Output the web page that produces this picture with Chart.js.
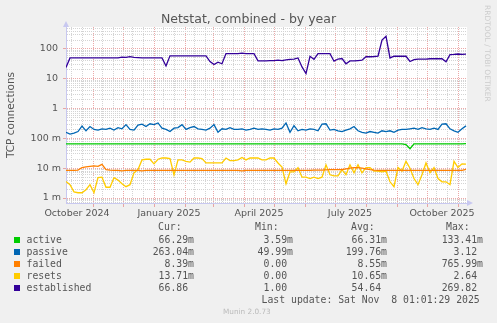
<!DOCTYPE html>
<html>
<head>
<meta charset="utf-8">
<title>Netstat, combined - by year</title>
<script src="https://cdn.jsdelivr.net/npm/chart.js@4.4.1/dist/chart.umd.min.js"></script>
<style>
	html, body { margin: 0; padding: 0; background: #f0f0f0; }
	#wrap { position: relative; width: 497px; height: 323px; overflow: hidden; font-family: "DejaVu Sans", sans-serif; color: #555; }
	#wrap canvas { position: absolute; left: 0; top: 0; }
	.txt { position: absolute; white-space: pre; line-height: 12px; }
	.mono { font-family: "DejaVu Sans Mono", monospace; font-size: 9.8px; }
	.box { position: absolute; width: 6px; height: 6px; }
	#title { left: 0; width: 497px; top: 12px; text-align: center; font-size: 12.5px; line-height: 14px; }
	#munin { left: 223px; top: 306px; font-size: 7.3px; color: #bbb; }
	#rrd { left: 482px; top: 5px; font-size: 7.5px; line-height: 10px; color: #ccc; writing-mode: vertical-rl; }
</style>
</head>
<body>
<div id="wrap">
	<canvas id="netstat" width="497" height="323"></canvas>
	<div id="title" class="txt">Netstat, combined - by year</div>
	<div id="rrd" class="txt">RRDTOOL / TOBI OETIKER</div>
	<div id="munin" class="txt">Munin 2.0.73</div>
</div>
<script>
// sample days, counted from 1 October 2024
var days = [
	4, 8, 12, 16, 20, 24, 28, 32, 36, 40,
	44, 48, 52, 56, 60, 64, 68, 72, 76, 80,
	84, 88, 92, 96, 100, 104, 108, 112, 116, 120,
	124, 128, 132, 136, 140, 144, 148, 152, 156, 160,
	164, 168, 172, 176, 180, 184, 188, 192, 196, 200,
	204, 208, 212, 216, 220, 224, 228, 232, 236, 240,
	244, 248, 252, 256, 260, 264, 268, 272, 276, 280,
	284, 288, 292, 296, 300, 304, 308, 312, 316, 320,
	324, 328, 332, 336, 340, 344, 348, 352, 356, 360,
	364, 368, 372, 376, 380, 384, 388, 392, 396, 400,
	404
];

// values in milli-connections
var active = [
	66, 66, 66, 66, 66, 66, 66, 66, 66, 66,
	66, 66, 66, 66, 66, 66, 66, 66, 66, 66,
	66, 66, 66, 66, 66, 66, 66, 66, 66, 66,
	66, 66, 66, 66, 66, 66, 66, 66, 66, 66,
	66, 66, 66, 66, 66, 66, 66, 66, 66, 66,
	66, 66, 66, 66, 66, 66, 66, 66, 66, 66,
	66, 66, 66, 66, 66, 66, 66, 66, 66, 66,
	66, 66, 66, 66, 66, 66, 66, 66, 66, 66,
	66, 66, 66, 66, 66, 62, 45, 66, 66, 66,
	66, 66, 66, 66, 66, 66, 66, 66, 66, 66,
	66.3
];
var passive = [
	160, 140, 150, 170, 260, 180, 250, 200, 190, 210,
	200, 220, 190, 230, 210, 290, 200, 190, 280, 300,
	250, 310, 290, 330, 220, 200, 170, 220, 230, 290,
	200, 230, 250, 210, 200, 190, 220, 290, 160, 210,
	200, 230, 200, 200, 210, 190, 200, 220, 200, 210,
	200, 190, 210, 200, 220, 330, 160, 270, 180, 200,
	190, 210, 200, 180, 300, 310, 190, 200, 180, 170,
	190, 210, 250, 180, 160, 150, 170, 160, 150, 180,
	170, 180, 160, 190, 200, 200, 210, 220, 200, 230,
	210, 200, 220, 200, 300, 310, 210, 180, 160, 210,
	263
];
var failed = [
	8.4, 8.4, 8.4, 8.6, 10.5, 11, 11.5, 12, 11.5, 13.5,
	9, 8.6, 8.4, 8.4, 8.2, 8.4, 8.4, 8.4, 8.4, 8.2,
	8.4, 8.4, 8.4, 8.4, 8.4, 8.4, 8.4, 8.4, 8.4, 8.4,
	8.4, 8.4, 8.4, 8.4, 8.4, 8.4, 8.4, 8.4, 8.4, 8.4,
	8.4, 8.4, 8.4, 8.4, 8.2, 8.4, 8.4, 8.4, 8.4, 8.4,
	8.4, 8.4, 8.4, 8.4, 8.4, 8.4, 8.4, 8.4, 8.4, 8.4,
	8.4, 8.4, 8.6, 8.6, 8.6, 8.8, 9, 9, 9, 9,
	9.5, 10, 10.5, 10.5, 10, 9.5, 9, 8.6, 8.4, 8.4,
	8.4, 8.4, 8.4, 8.4, 8.4, 8.4, 8.4, 8.4, 8.4, 8.4,
	8.4, 8.4, 8.4, 8.4, 8.4, 8.4, 8.4, 8.4, 8.4, 8.4,
	9.2
];
var resets = [
	3.6, 2.8, 1.6, 1.5, 1.5, 1.9, 2.8, 1.5, 4.8, 5,
	2.3, 2.3, 4.8, 4, 3, 2.4, 2.8, 7, 9, 19,
	20, 20, 14, 20, 22, 22, 21, 6, 19, 19,
	17, 16, 22, 22, 21, 15, 15, 15, 15, 15,
	22, 18, 18, 19, 23, 19, 22, 22, 22, 19,
	19, 22, 22, 15, 11, 3, 7.5, 7.5, 10.5, 5,
	5, 4.5, 5, 4.5, 5, 13, 6, 5.5, 5.5, 9,
	6, 13, 7, 13, 7, 10.5, 10.5, 8, 8, 7.5,
	8, 3.5, 2.4, 10.5, 8, 17, 10, 4.5, 2.8, 6,
	15, 7, 10.5, 4.5, 3.5, 3.5, 2.8, 17, 10.5, 14,
	13.7
];
// values in connections
var established = [
	24, 50, 50, 50, 50, 50, 50, 50, 50, 50,
	50, 50, 50, 50, 53, 52, 55, 52, 51, 50,
	50, 50, 50, 50, 50, 27, 59, 59, 59, 59,
	59, 59, 59, 59, 59, 59, 38, 30, 36, 32,
	70, 70, 70, 70, 73, 70, 70, 70, 40, 40,
	40, 41, 41, 42, 41, 43, 45, 46, 50, 25,
	15, 57, 45, 70, 70, 70, 70, 39, 46, 48,
	32, 40, 40, 41, 42, 55, 55, 56, 58, 200,
	269, 50, 57, 57, 57, 57, 38, 44, 46, 46,
	46, 47, 47, 47, 47, 37, 65, 66, 68, 66,
	67
];

var seriesNames = ["active", "passive", "failed", "resets", "established"];
var seriesColors = ["#00cc00", "#0066b3", "#ff8000", "#ffcc00", "#330099"];
var curVals = ["66.29m", "263.04m", "8.39m", "13.71m", "66.86 "];
var minVals = ["3.59m", "49.99m", "0.00 ", "0.00 ", "1.00 "];
var avgVals = ["66.31m", "199.76m", "8.55m", "10.65m", "54.64 "];
var maxVals = ["133.41m", "3.12 ", "765.99m", "2.64 ", "269.82 "];
var lastUpdate = "Last update: Sat Nov  8 01:01:29 2025";

// x axis: month starts, minor lines, and label positions (days from 1 Oct 2024)
var monthStarts = [0, 31, 61, 92, 123, 151, 182, 212, 243, 273, 304, 335, 365, 396];
var minorOffsets = [9, 20];
var labelDays = [15, 107, 197, 288, 380];
var labelText = ["October 2024", "January 2025", "April 2025", "July 2025", "October 2025"];
var dayMin = 4, dayMax = 405;

// y axis: decade labels
var decades = [100, 10, 1, 0.1, 0.01, 0.001];
var decadeText = ["100 ", "10 ", "1 ", "100 m", "10 m", "1 m"];
var yMin = 0.00068, yMax = 547;

var majorGrid = "rgba(230, 140, 140, 0.75)";
var minorGrid = "#d4d4d4";
var axisColor = "#c8c8f0";

function points(values, scale) {
	return values.map(function(v, i) {
		return { x: days[i], y: v * scale };
	});
}

function isDecade(v) {
	var l = Math.log10(v);
	return Math.abs(l - Math.round(l)) < 1e-6;
}

var frame = {
	id: "frame",
	beforeDraw: function(chart) {
		var a = chart.chartArea, ctx = chart.ctx;
		ctx.save();
		ctx.fillStyle = "#ffffff";
		ctx.fillRect(a.left, a.top, a.right - a.left, a.bottom - a.top);
		ctx.restore();
	},
	afterDraw: function(chart) {
		var a = chart.chartArea, ctx = chart.ctx;
		ctx.save();
		ctx.fillStyle = axisColor;
		ctx.beginPath();
		ctx.moveTo(a.left - 3, a.top);
		ctx.lineTo(a.left + 3, a.top);
		ctx.lineTo(a.left, a.top - 6);
		ctx.fill();
		ctx.beginPath();
		ctx.moveTo(a.right, a.bottom - 3);
		ctx.lineTo(a.right, a.bottom + 3);
		ctx.lineTo(a.right + 6, a.bottom);
		ctx.fill();
		ctx.restore();
	}
};

var datasets = [
	{ data: points(active, 0.001) },
	{ data: points(passive, 0.001) },
	{ data: points(failed, 0.001) },
	{ data: points(resets, 0.001) },
	{ data: points(established, 1) }
].map(function(ds, i) {
	ds.label = seriesNames[i];
	ds.borderColor = seriesColors[i];
	ds.borderWidth = 1.3;
	ds.pointRadius = 0;
	ds.tension = 0;
	ds.fill = false;
	return ds;
});

var tickFont = { family: "DejaVu Sans", size: 9.5 };

new Chart(document.getElementById("netstat").getContext("2d"), {
	type: "line",
	data: { datasets: datasets },
	plugins: [frame],
	options: {
		responsive: false,
		animation: false,
		devicePixelRatio: 1,
		layout: { autoPadding: false, padding: { left: 0, right: 30, top: 27, bottom: 100 } },
		plugins: { legend: { display: false }, tooltip: { enabled: false } },
		scales: {
			x: {
				type: "linear",
				min: dayMin,
				max: dayMax,
				bounds: "data",
				afterFit: function(s) { s.height = 20; },
				afterBuildTicks: function(scale) {
					var t = [];
					monthStarts.forEach(function(d) {
						t.push(d);
						minorOffsets.forEach(function(o) { t.push(d + o); });
					});
					labelDays.forEach(function(d) { t.push(d); });
					scale.ticks = t.filter(function(d) { return d > dayMin && d < dayMax; })
						.sort(function(a, b) { return a - b; })
						.map(function(d) { return { value: d }; });
				},
				ticks: {
					autoSkip: false,
					maxRotation: 0,
					padding: 1,
					color: "#555",
					font: tickFont,
					callback: function(value) {
						var i = labelDays.indexOf(value);
						return i >= 0 ? labelText[i] : "";
					}
				},
				grid: {
					tickLength: 4,
					color: function(c) {
						if (!c.tick) return minorGrid;
						if (monthStarts.indexOf(c.tick.value) >= 0) return majorGrid;
						if (labelDays.indexOf(c.tick.value) >= 0) return "rgba(0,0,0,0)";
						return minorGrid;
					},
					tickColor: function(c) {
						if (c.tick && monthStarts.indexOf(c.tick.value) >= 0) return majorGrid;
						return "rgba(0,0,0,0)";
					}
				},
				border: {
					color: axisColor,
					dash: function(c) { return c.tick ? [1, 1] : []; }
				}
			},
			y: {
				type: "logarithmic",
				min: yMin,
				max: yMax,
				bounds: "data",
				afterFit: function(s) { s.width = 66; },
				afterBuildTicks: function(scale) {
					var t = [];
					for (var k = -4; k <= 2; k++) {
						for (var n = 1; n <= 9; n++) {
							var v = parseFloat((n * Math.pow(10, k)).toPrecision(3));
							if (v >= yMin && v <= yMax) t.push({ value: v });
						}
					}
					scale.ticks = t;
				},
				ticks: {
					autoSkip: false,
					padding: 2,
					color: "#555",
					font: tickFont,
					callback: function(value) {
						for (var i = 0; i < decades.length; i++) {
							if (Math.abs(value - decades[i]) / decades[i] < 1e-6) return decadeText[i];
						}
						return "";
					}
				},
				grid: {
					tickLength: 3,
					color: function(c) {
						if (c.tick && isDecade(c.tick.value)) return majorGrid;
						return minorGrid;
					},
					tickColor: function(c) {
						if (c.tick && isDecade(c.tick.value)) return majorGrid;
						return "rgba(0,0,0,0)";
					}
				},
				border: {
					color: axisColor,
					dash: function(c) { return c.tick ? [1, 1] : []; }
				},
				title: {
					display: true,
					text: "TCP connections",
					color: "#555",
					font: { family: "DejaVu Sans", size: 10.5 },
					padding: { top: 5, bottom: 0 }
				}
			}
		}
	}
});

// legend table under the graph
(function() {
	var wrap = document.getElementById("wrap");
	function add(text, cls, css) {
		var d = document.createElement("div");
		d.className = cls;
		d.textContent = text;
		for (var k in css) d.style[k] = css[k];
		wrap.appendChild(d);
		return d;
	}
	var headTop = 221;
	add("Cur:", "txt mono", { left: "158px", top: headTop + "px" });
	add("Min:", "txt mono", { left: "255px", top: headTop + "px" });
	add("Avg:", "txt mono", { left: "351px", top: headTop + "px" });
	add("Max:", "txt mono", { left: "446px", top: headTop + "px" });
	var rowTops = [234, 246, 257.5, 269.5, 281.5];
	seriesNames.forEach(function(name, i) {
		var top = rowTops[i];
		add("", "box", { left: "14px", top: (top + 3) + "px", background: seriesColors[i] });
		add(name, "txt mono", { left: "26.5px", top: top + "px" });
		add(curVals[i], "txt mono", { right: (497 - 194) + "px", top: top + "px", textAlign: "right" });
		add(minVals[i], "txt mono", { right: (497 - 293) + "px", top: top + "px", textAlign: "right" });
		add(avgVals[i], "txt mono", { right: (497 - 387) + "px", top: top + "px", textAlign: "right" });
		add(maxVals[i], "txt mono", { right: (497 - 483) + "px", top: top + "px", textAlign: "right" });
	});
	add(lastUpdate, "txt mono", { left: "261.5px", top: "294px" });
})();
</script>
</body>
</html>
